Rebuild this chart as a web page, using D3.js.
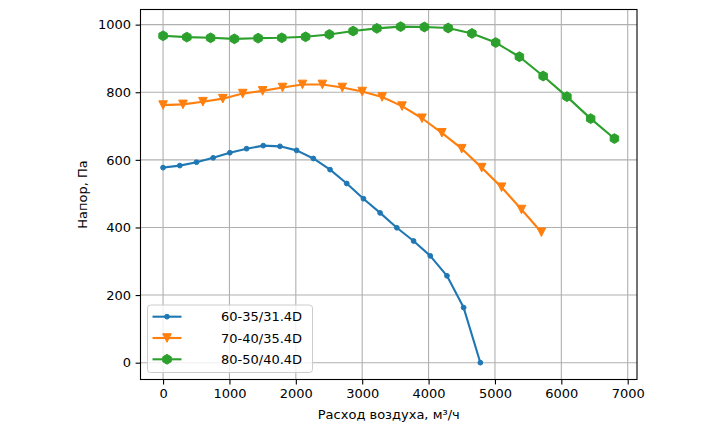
<!DOCTYPE html>
<html>
<head>
<meta charset="utf-8">
<script src="https://cdn.jsdelivr.net/npm/d3@7"></script>
<style>
  body { margin: 0; background: #fff; }
  text { font-family: "DejaVu Sans", sans-serif; }
</style>
</head>
<body>
<div id="chart"></div>
<script>
// données
const names = ["60-35/31.4D", "70-40/35.4D", "80-50/40.4D"];
const colors = ["#1f77b4", "#ff7f0e", "#2ca02c"];

const x1 = [0, 252, 503, 755, 1006, 1258, 1509, 1761, 2012, 2264, 2516, 2767, 3019, 3270, 3522, 3774, 4025, 4277, 4528, 4780];
const y1 = [577, 583, 593, 606, 621, 633, 642, 640, 628, 604, 571, 530, 485, 443, 399, 360, 316, 257, 163, 0];

const x2 = [0, 300, 600, 900, 1200, 1500, 1800, 2100, 2400, 2700, 3000, 3300, 3600, 3900, 4200, 4500, 4800, 5100, 5400, 5700];
const y2 = [762, 764, 772, 781, 796, 804, 814, 823, 823, 814, 802, 786, 759, 723, 680, 633, 577, 519, 453, 386];

const x3 = [0, 358, 716, 1074, 1432, 1789, 2147, 2505, 2863, 3221, 3579, 3937, 4295, 4653, 5011, 5368, 5726, 6084, 6442, 6800];
const y3 = [967, 963, 961, 958, 960, 961, 964, 971, 981, 989, 994, 993, 990, 974, 947, 905, 848, 787, 722, 663];

const xTicks = [0, 1000, 2000, 3000, 4000, 5000, 6000, 7000];
const yTicks = [0, 200, 400, 600, 800, 1000];

const series = [
  {name: names[0], xs: x1, ys: y1, color: colors[0], marker: "dot"},
  {name: names[1], xs: x2, ys: y2, color: colors[1], marker: "tri"},
  {name: names[2], xs: x3, ys: y3, color: colors[2], marker: "hex"}
];

// dimensions
const W = 720, H = 432;
const margin = {top: 9.5, right: 83, bottom: 52.5, left: 140.5};
const width = W - margin.left - margin.right;
const height = H - margin.top - margin.bottom;

const svg = d3.select("#chart").append("svg")
  .attr("width", W).attr("height", H);

const g = svg.append("g")
  .attr("transform", `translate(${margin.left},${margin.top})`);

// échelles (marge auto 5% comme matplotlib)
const xs = d3.scaleLinear().domain([-340, 7140]).range([0, width]);
const ys = d3.scaleLinear().domain([-49.75, 1044.75]).range([height, 0]);

// grille
g.append("g").selectAll("line").data(xTicks).join("line")
  .attr("x1", d => xs(d)).attr("x2", d => xs(d))
  .attr("y1", 0).attr("y2", height)
  .attr("stroke", "#b0b0b0").attr("stroke-width", 1.1);
g.append("g").selectAll("line").data(yTicks).join("line")
  .attr("y1", d => ys(d)).attr("y2", d => ys(d))
  .attr("x1", 0).attr("x2", width)
  .attr("stroke", "#b0b0b0").attr("stroke-width", 1.1);

// axes
const xAxis = g.append("g")
  .attr("transform", `translate(0,${height})`)
  .call(d3.axisBottom(xs).tickValues(xTicks).tickSize(4.9).tickPadding(4.5).tickFormat(d3.format("d")));
const yAxis = g.append("g")
  .call(d3.axisLeft(ys).tickValues(yTicks).tickSize(4.9).tickPadding(4.5).tickFormat(d3.format("d")));
[xAxis, yAxis].forEach(a => {
  a.select(".domain").remove();
  a.selectAll("line").attr("stroke", "#000").attr("stroke-width", 1.1);
  a.selectAll("text").attr("font-family", "DejaVu Sans").attr("font-size", 13).attr("fill", "#000");
});

// courbes
const markerPath = {
  dot: d3.symbol(d3.symbolCircle, 18)(),
  tri: "M0,4.3L-4.3,-4.3L4.3,-4.3Z",
  hex: d3.range(6).map((i) => {
    const a = Math.PI / 3 * i - Math.PI / 2;
    return (i ? "L" : "M") + (4.9 * Math.cos(a)).toFixed(2) + "," + (4.9 * Math.sin(a)).toFixed(2);
  }).join("") + "Z"
};

const line = d3.line().x(d => xs(d[0])).y(d => ys(d[1]));

series.forEach(s => {
  const pts = s.xs.map((v, i) => [v, s.ys[i]]);
  g.append("path").datum(pts)
    .attr("d", line)
    .attr("fill", "none").attr("stroke", s.color).attr("stroke-width", 2.1)
    .attr("stroke-linejoin", "round").attr("stroke-linecap", "square");
  g.append("g").selectAll("path").data(pts).join("path")
    .attr("transform", d => `translate(${xs(d[0])},${ys(d[1])})`)
    .attr("d", markerPath[s.marker])
    .attr("fill", s.color).attr("stroke", s.color).attr("stroke-width", 1);
});

// cadre
g.append("rect").attr("width", width).attr("height", height)
  .attr("fill", "none").attr("stroke", "#000").attr("stroke-width", 1.1);

// légende
const leg = svg.append("g").attr("transform", "translate(147.5,305)");
leg.append("rect").attr("width", 165).attr("height", 67.5).attr("rx", 3)
  .attr("fill", "#fff").attr("fill-opacity", 0.8).attr("stroke", "#cccccc").attr("stroke-width", 1);
series.forEach((s, i) => {
  const y = 11.7 + i * 21.3;
  leg.append("line").attr("x1", 5).attr("x2", 34).attr("y1", y).attr("y2", y)
    .attr("stroke", s.color).attr("stroke-width", 2.1);
  leg.append("path").attr("transform", `translate(19.5,${y})`)
    .attr("d", markerPath[s.marker]).attr("fill", s.color).attr("stroke", s.color);
  leg.append("text").attr("x", 73.5).attr("y", y).attr("dy", "0.35em")
    .attr("font-size", 13).text(s.name);
});

// titres axes
svg.append("text").attr("x", margin.left + width / 2).attr("y", 419)
  .attr("text-anchor", "middle").attr("font-size", 13).text("Расход воздуха, м³/ч");
svg.append("text").attr("transform", `translate(87,${margin.top + height / 2}) rotate(-90)`)
  .attr("text-anchor", "middle").attr("font-size", 13).text("Напор, Па");
</script>
</body>
</html>
